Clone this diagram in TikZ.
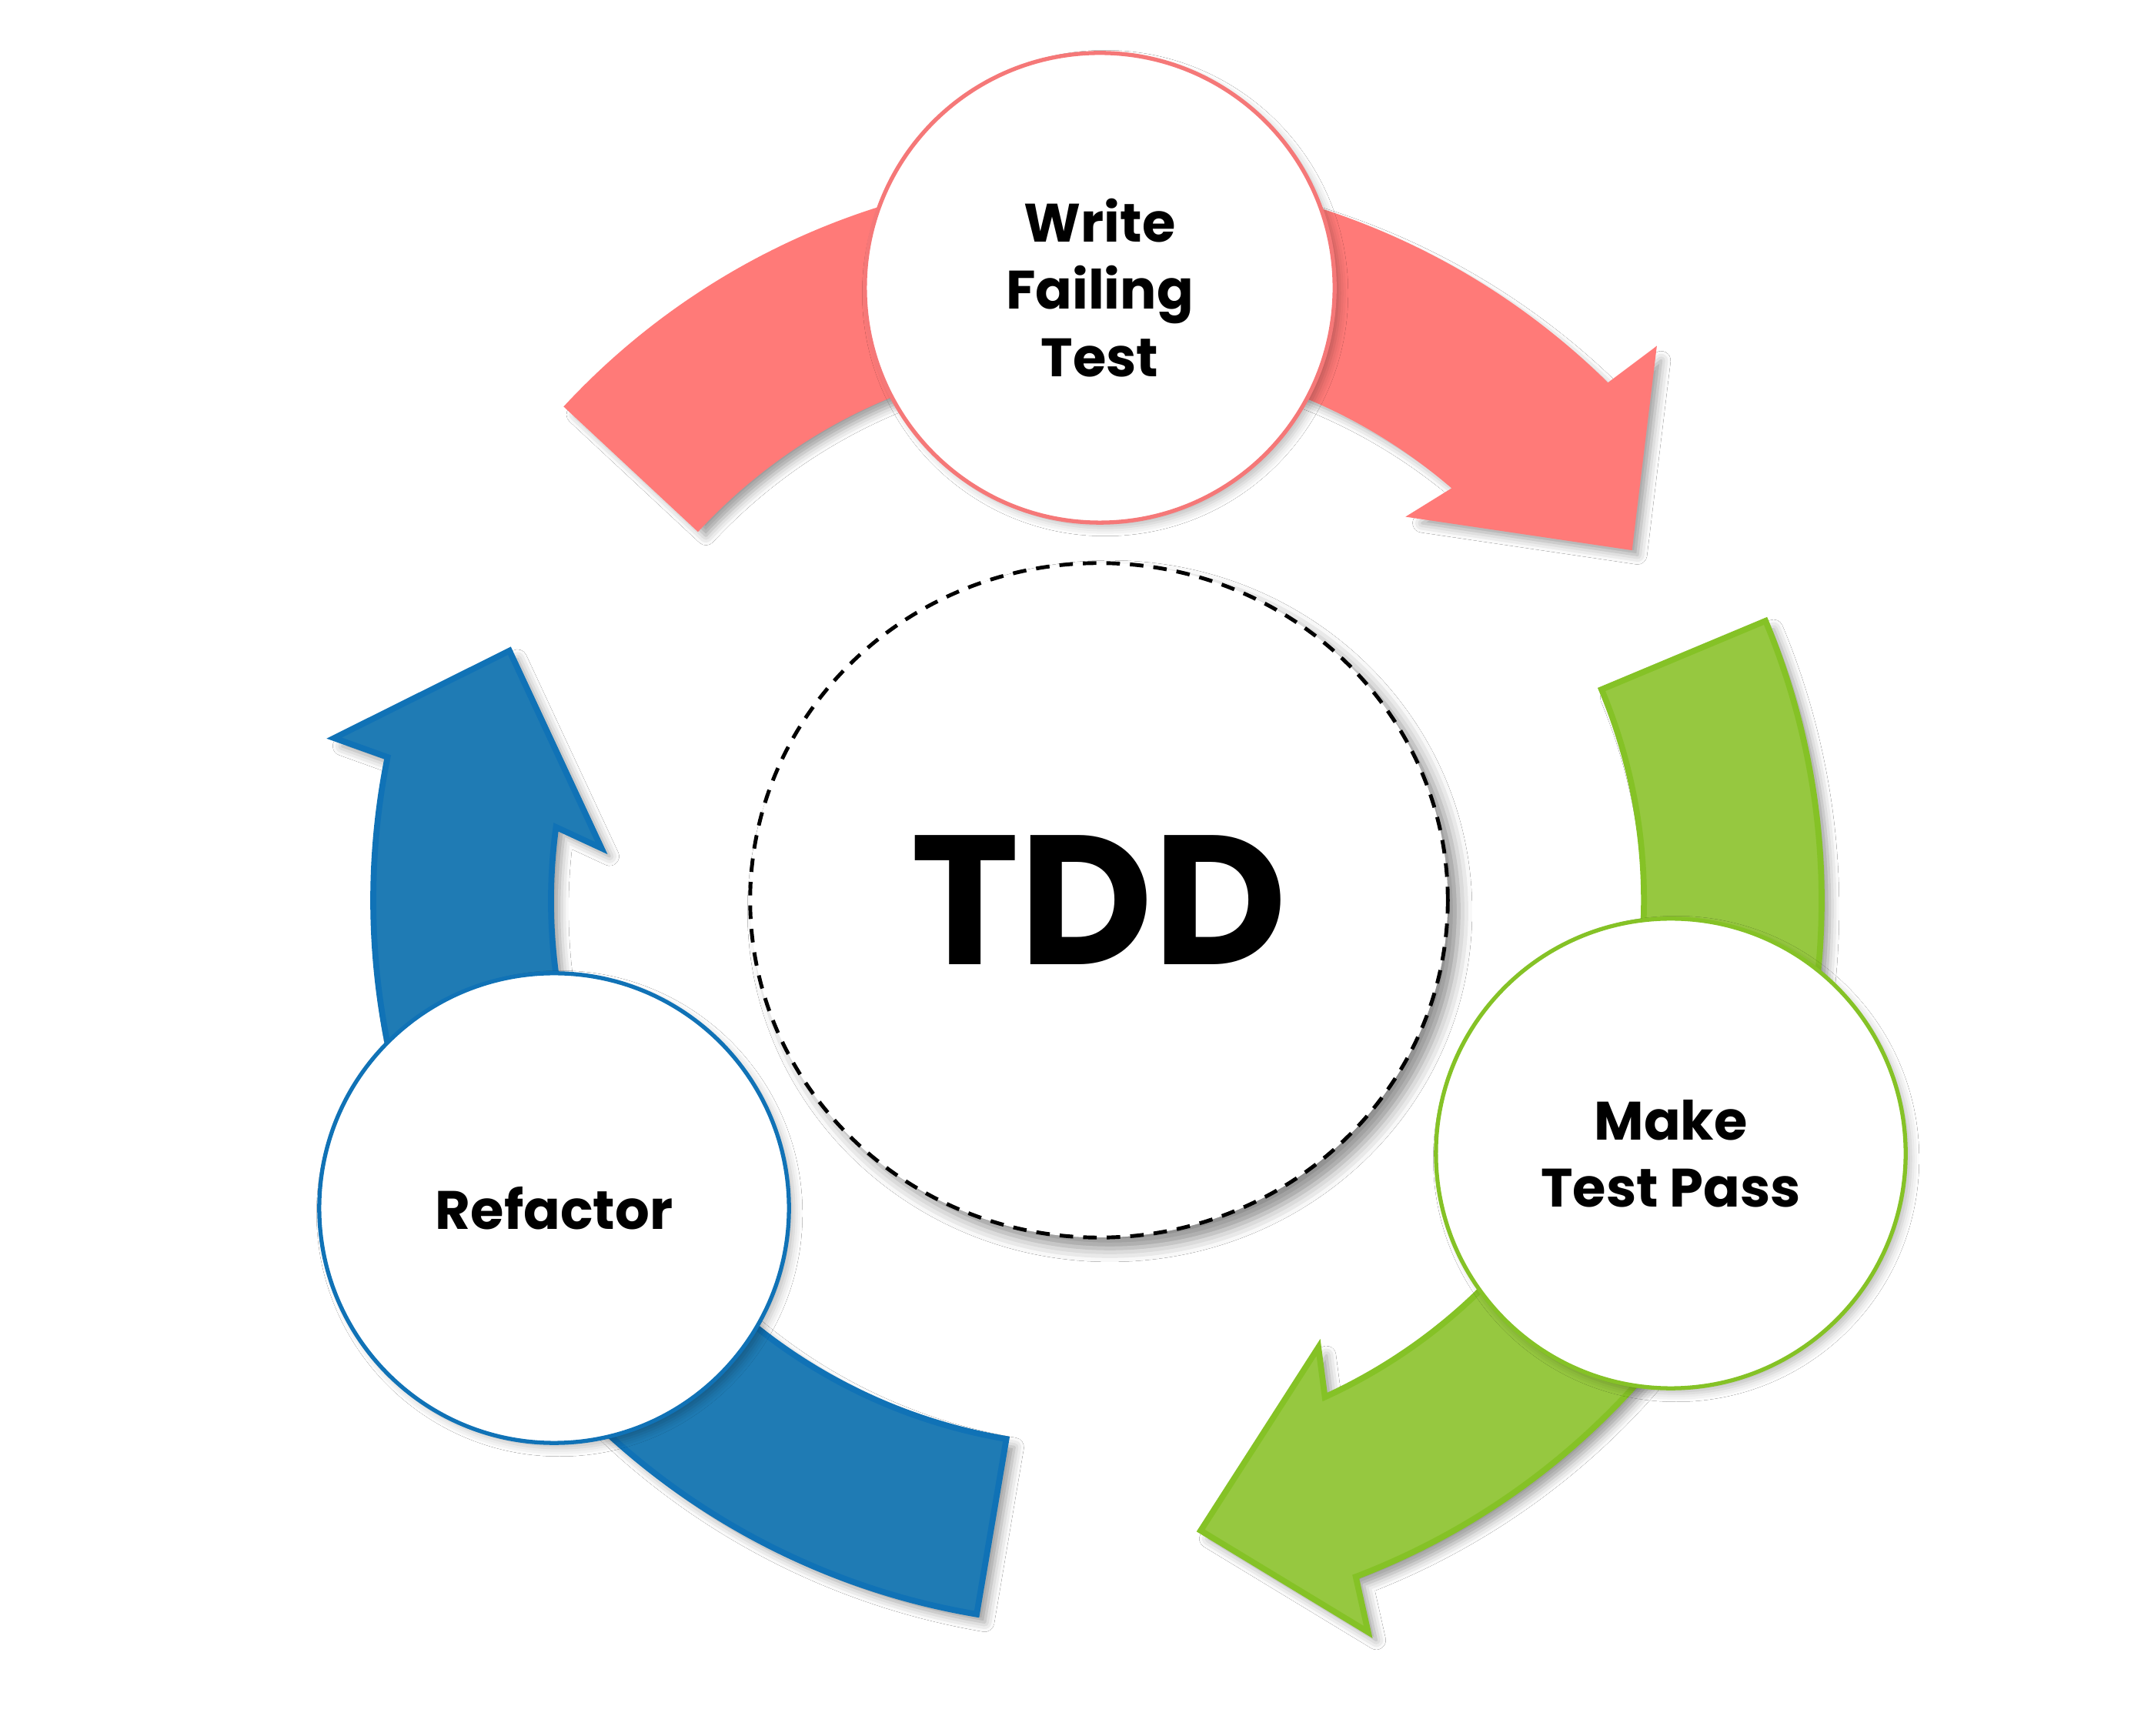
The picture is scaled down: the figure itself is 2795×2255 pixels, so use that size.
\documentclass[tikz,border=0pt]{standalone}
\usepackage{fontspec}
\setmainfont{Poppins}
\usetikzlibrary{shapes.geometric,shadows.blur}

\definecolor{redfill}{HTML}{FF7A78}
\definecolor{redline}{HTML}{F57878}
\definecolor{greenfill}{HTML}{96C840}
\definecolor{greenline}{HTML}{85C226}
\definecolor{bluefill}{HTML}{1F7BB4}
\definecolor{blueline}{HTML}{1072B6}

% curved cycle arrow around the ring centre; #1 = angle of the tip
\newcommand\cyclearrow[3]{%
  \path[arrowbody, fill=#2, draw=#3]
    (#1:830) -- ({#1+11}:1014) -- ({#1+11.6}:941)
    arc[start angle={#1+11.6}, end angle={#1+103.4}, radius=941]
    -- ({#1+103.4}:710)
    arc[start angle={#1+103.4}, end angle={#1+15.3}, radius=710]
    -- ({#1+17}:648) -- cycle;}

\begin{document}
\begin{tikzpicture}[x=0.01cm, y=0.01cm,
  softshadow/.style={blur shadow={shadow xshift=3pt, shadow yshift=-3pt,
      shadow blur radius=3.5pt, shadow opacity=40}},
  arrowbody/.style={softshadow, line width=2.2pt, line join=miter},
  stage/.style={circle, draw, fill=white, line width=1.5pt, inner sep=0pt,
      minimum size=6.1cm, align=center,
      font=\fontsize{20}{24.8}\selectfont\bfseries,
      blur shadow={shadow xshift=2pt, shadow yshift=-2pt,
      shadow blur radius=3pt, shadow opacity=25}},
  hub/.style={ellipse, draw, fill=white, line width=1.4pt,
      dash pattern=on 5pt off 3.7pt, inner sep=0pt,
      minimum width=9.06cm, minimum height=8.76cm,
      font=\fontsize{68}{70}\selectfont\bfseries,
      blur shadow={shadow xshift=4pt, shadow yshift=-4pt,
      shadow blur radius=5pt, shadow opacity=45}}]

\useasboundingbox (0,0) rectangle (2795,2255);
\fill[white] (0,0) rectangle (2795,2255);

\coordinate (ring) at (1426,1085);

% the three arrows of the cycle
\begin{scope}[shift={(ring)}]
  \cyclearrow{33.6}{redfill}{redfill}
  \cyclearrow{-80.7}{greenfill}{greenline}
  \cyclearrow{157.0}{bluefill}{blueline}
\end{scope}

% centre
\node[hub] (tdd) at (1428,1085) {TDD};

% stages
\node[stage, draw=redline] (write) at (1429,1881) {Write\\Failing\\Test};
\node[stage, draw=greenline] (pass) at (2171,756) {Make\\Test Pass};
\node[stage, draw=blueline] (refactor) at (720,685) {Refactor};

\end{tikzpicture}
\end{document}
